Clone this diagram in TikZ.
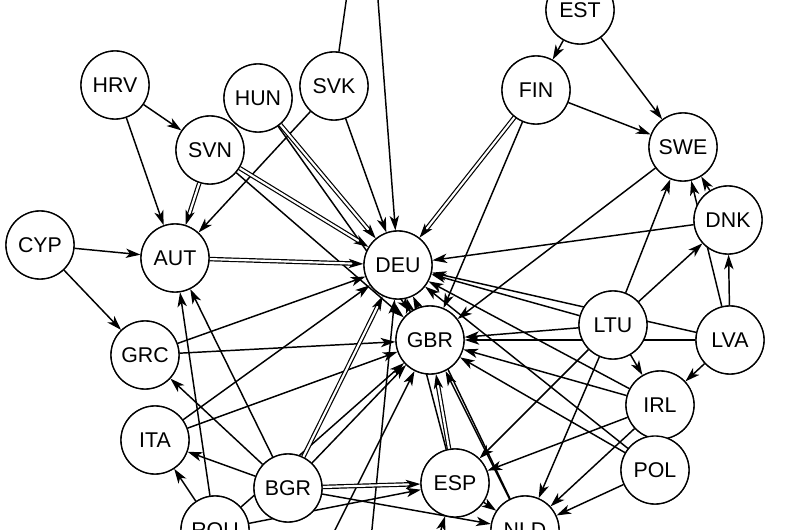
\documentclass[tikz,border=0pt]{standalone}
\usepackage{fontspec}
\setmainfont{Liberation Sans}
\usetikzlibrary{arrows.meta}
\begin{document}
\begin{tikzpicture}[x=0.75pt,y=-0.75pt,
  cty/.style={circle,draw,line width=1pt,fill=white,minimum size=51pt,inner sep=0pt,font=\fontsize{16}{19}\selectfont},
  ed/.style={-{Stealth[length=11pt,width=7pt,inset=3pt]},line width=1.1pt},
  dbl/.style={ed,double distance=1.6pt,line width=0.9pt}]
\useasboundingbox (0,0) rectangle (800,530);
\clip (0,0) rectangle (800,530);
\coordinate (TOP) at (352,-40);
\coordinate (TOP2) at (375,-40);
\coordinate (B1) at (365,600);
\coordinate (B2) at (420,600);
\coordinate (B3) at (300,600);
\node[cty] (EST) at (580,10) {EST};
\node[cty] (FIN) at (536,90) {FIN};
\node[cty] (SWE) at (683,147) {SWE};
\node[cty] (DNK) at (728,220) {DNK};
\node[cty] (HRV) at (115,85) {HRV};
\node[cty] (HUN) at (258,98) {HUN};
\node[cty] (SVK) at (334,86) {SVK};
\node[cty] (SVN) at (210,150) {SVN};
\node[cty] (CYP) at (40,245) {CYP};
\node[cty] (AUT) at (175,258) {AUT};
\node[cty] (DEU) at (398,265) {DEU};
\node[cty] (GBR) at (430,340) {GBR};
\node[cty] (LTU) at (613,325) {LTU};
\node[cty] (LVA) at (730,340) {LVA};
\node[cty] (GRC) at (145,355) {GRC};
\node[cty] (IRL) at (660,405) {IRL};
\node[cty] (ITA) at (155,440) {ITA};
\node[cty] (POL) at (655,470) {POL};
\node[cty] (BGR) at (288,488) {BGR};
\node[cty] (ESP) at (455,483) {ESP};
\node[cty] (ROU) at (215,530) {ROU};
\node[cty] (NLD) at (525,530) {NLD};
\foreach \a/\b in {EST/FIN,EST/SWE,FIN/SWE,FIN/GBR,HRV/SVN,HRV/AUT,HUN/GBR,SVK/TOP,SVK/DEU,SVK/AUT,TOP2/DEU,SVN/GBR,CYP/AUT,CYP/GRC,SWE/GBR,DNK/SWE,DNK/DEU,LTU/SWE,LTU/DNK,LTU/DEU,LTU/GBR,LTU/IRL,LTU/ESP,LTU/NLD,LVA/DNK,LVA/SWE,LVA/IRL,LVA/GBR,LVA/DEU,GRC/DEU,GRC/GBR,ITA/DEU,ITA/GBR,IRL/GBR,IRL/DEU,IRL/ESP,IRL/NLD,POL/DEU,POL/NLD,POL/GBR,BGR/ITA,BGR/GRC,BGR/AUT,BGR/NLD,BGR/GBR,ROU/ITA,ROU/ESP,ROU/AUT,ROU/GBR,ESP/DEU,ESP/NLD,NLD/GBR,NLD/DEU,B1/DEU,B2/ESP,B3/GBR}
  \draw[ed] (\a) -- (\b);
\foreach \a/\b in {FIN/DEU,HUN/DEU,SVN/DEU,SVN/AUT,AUT/DEU,BGR/DEU,BGR/ESP,ESP/GBR}
  \draw[dbl] (\a) -- (\b);
\foreach \n in {EST,FIN,SWE,DNK,HRV,HUN,SVK,SVN,CYP,AUT,DEU,GBR,LTU,LVA,GRC,IRL,ITA,POL,BGR,ESP,ROU,NLD}
  \node[cty] at (\n) {\n};
\end{tikzpicture}
\end{document}
